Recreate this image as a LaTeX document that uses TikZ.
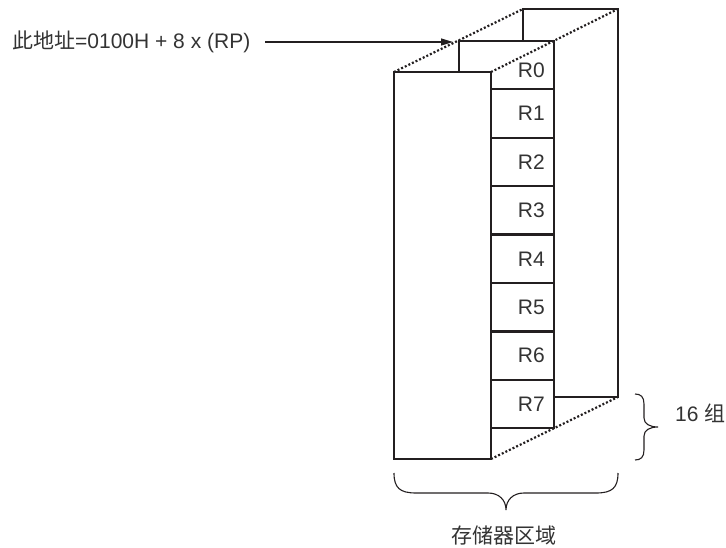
\documentclass[tikz,border=0pt]{standalone}
\usepackage{fontspec}
\setmainfont{Liberation Sans}
\newfontfamily\cjk{Noto Sans CJK SC}
\usetikzlibrary{arrows.meta}
\definecolor{ink}{HTML}{231F20}
\definecolor{txt}{HTML}{333333}
\tikzset{
  boxline/.style={draw=ink, line width=2.2pt, line cap=rect, line join=miter},
  dotline/.style={draw=ink, line width=2.2pt, line cap=butt, dash pattern=on 2pt off 2pt},
  braceline/.style={draw=ink, line width=1.1pt},
  arrowline/.style={draw=ink, line width=1.1pt, -{Triangle[length=12pt,width=7pt]}},
  lbl/.style={font=\fontsize{21}{24}\selectfont, text=txt, inner sep=0pt},
  reglbl/.style={lbl, anchor=east}
}
\begin{document}
\begin{tikzpicture}[x=1pt,y=-1pt]
\useasboundingbox (0,0) rectangle (726,548);
% corners
\coordinate (ftl) at (394,72);
\coordinate (ftr) at (491,72);
\coordinate (fbl) at (394,459);
\coordinate (fbr) at (491,459);
\coordinate (mtl) at (459,41);
\coordinate (mtr) at (554,41);
\coordinate (mbr) at (554,428);
\coordinate (btl) at (523,9);
\coordinate (btr) at (618,9);
\coordinate (bbr) at (618,397);
% back panel
\draw[boxline] (523,41) -- (btl) -- (btr) -- (bbr) -- (554,397);
% middle panel
\draw[boxline] (459,72) -- (mtl) -- (mtr) -- (mbr) -- (491,428);
% register dividers
\foreach \y in {89.4,137.8,186.2,234.6,283,331.4,379.8}
  \draw[boxline] (491,\y) -- (554,\y);
% front box
\draw[boxline, fill=white] (ftl) rectangle (fbr);
% dotted edges
\draw[dotline] (ftl) -- (btl);
\draw[dotline] (ftr) -- (btr);
\draw[dotline] (fbr) -- (bbr);
% register labels
\node[reglbl] (r0) at (545,70.5) {R0};
\node[reglbl] (r1) at (545,113.6) {R1};
\node[reglbl] (r2) at (545,162) {R2};
\node[reglbl] (r3) at (545,210.4) {R3};
\node[reglbl] (r4) at (545,258.8) {R4};
\node[reglbl] (r5) at (545,307.2) {R5};
\node[reglbl] (r6) at (545,355.6) {R6};
\node[reglbl] (r7) at (545,404) {R7};
% address label and arrow
\node[lbl, anchor=west] (addr) at (12,42) {{\cjk 此地址}=0100H + 8 x (RP)};
\coordinate (tip) at (453,42);
\draw[arrowline, shorten <=15pt] (addr.east) -- (tip);
% right brace
\draw[braceline] (635,394) .. controls (641,394) and (644,397) .. (644,404) -- (644,418)
  .. controls (644,424) and (650,427) .. (658,427)
  .. controls (650,427) and (644,430) .. (644,436) -- (644,450)
  .. controls (644,457) and (641,460) .. (635,460);
\node[lbl, anchor=west] (grp) at (675,413) {16 {\cjk 组}};
% bottom brace
\draw[braceline] (394,473) .. controls (394,488) and (400,493) .. (416,493) -- (488,493)
  .. controls (499,493) and (506,500) .. (506,510)
  .. controls (506,500) and (513,493) .. (524,493) -- (596,493)
  .. controls (612,493) and (618,488) .. (618,473);
\node[lbl] (area) at (504,535) {\cjk 存储器区域};
\end{tikzpicture}
\end{document}
